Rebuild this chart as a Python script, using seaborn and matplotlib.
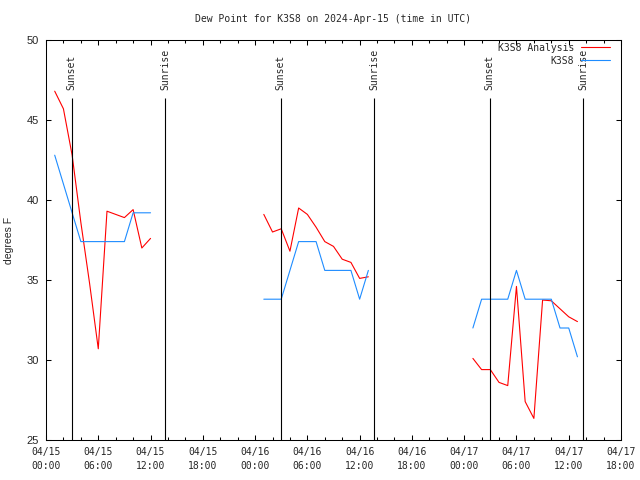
import numpy as np
import pandas as pd
import matplotlib
matplotlib.use("Agg")
import matplotlib.pyplot as plt
from matplotlib.lines import Line2D
import seaborn as sns

# heures depuis 2024-04-15 00:00 UTC, trois segments de données
hours_1 = list(range(1, 13))
hours_2 = list(range(25, 38))
hours_3 = list(range(49, 62))

analysis_1 = [46.8, 45.7, 42.8, 38.6, 34.8, 30.7, 39.3, 39.1, 38.9, 39.4, 37.0, 37.6]
analysis_2 = [39.1, 38.0, 38.2, 36.8, 39.5, 39.1, 38.3, 37.4, 37.1, 36.3, 36.1, 35.1, 35.2]
analysis_3 = [30.1, 29.4, 29.4, 28.6, 28.4, 34.6, 27.4, 26.35, 33.75, 33.7, 33.2, 32.7, 32.4]

obs_1 = [42.8, 41.0, 39.2, 37.4, 37.4, 37.4, 37.4, 37.4, 37.4, 39.2, 39.2, 39.2]
obs_2 = [33.8, 33.8, 33.8, 35.6, 37.4, 37.4, 37.4, 35.6, 35.6, 35.6, 35.6, 33.8, 35.6]
obs_3 = [32.0, 33.8, 33.8, 33.8, 33.8, 35.6, 33.8, 33.8, 33.8, 33.8, 32.0, 32.0, 30.2]

sunset_hours = [2.93, 26.93, 50.93]
sunrise_hours = [13.63, 37.63, 61.63]

x_ticks = list(range(0, 67, 6))
x_tick_labels = ["04/15\n00:00", "04/15\n06:00", "04/15\n12:00", "04/15\n18:00",
                 "04/16\n00:00", "04/16\n06:00", "04/16\n12:00", "04/16\n18:00",
                 "04/17\n00:00", "04/17\n06:00", "04/17\n12:00", "04/17\n18:00"]
y_ticks = [25, 30, 35, 40, 45, 50]

series_names = ["K3S8 Analysis", "K3S8"]
cores = {"K3S8 Analysis": "#ff0000", "K3S8": "#1e8cff"}

# monta a tabela longa (série + segmento)
linhas = []
for nome, segs in [("K3S8 Analysis", [analysis_1, analysis_2, analysis_3]),
                   ("K3S8", [obs_1, obs_2, obs_3])]:
    for i, (hrs, vals) in enumerate(zip([hours_1, hours_2, hours_3], segs)):
        for h, v in zip(hrs, vals):
            linhas.append({"serie": nome, "segmento": i, "hora": h, "dewpt": v})
df = pd.DataFrame(linhas)

sns.set_style("ticks")
mono = "DejaVu Sans Mono"

fig = plt.figure(figsize=(6.4, 4.8), dpi=100)
ax = fig.add_axes([46 / 640, 40 / 480, 575 / 640, 400 / 480])

sns.lineplot(data=df, x="hora", y="dewpt", hue="serie", units="segmento",
             estimator=None, palette=cores, hue_order=series_names,
             linewidth=0.8, legend=False, ax=ax)

# linhas de nascer/pôr do sol
ax.vlines(sunset_hours + sunrise_hours, 25, 46.4, color="black", linewidth=0.8)
for h in sunset_hours:
    ax.text(h, 46.9, "Sunset", rotation=90, ha="center", va="bottom",
            family=mono, fontsize=7)
for h in sunrise_hours:
    ax.text(h + 0.05, 46.9, "Sunrise", rotation=90, ha="center", va="bottom",
            family=mono, fontsize=7)

ax.set_xlim(0, 66)
ax.set_ylim(25, 50)
ax.set_xticks(x_ticks)
ax.set_xticklabels(x_tick_labels, family=mono, fontsize=7, linespacing=1.45)
ax.set_xticks(np.arange(0, 67, 2), minor=True)
ax.set_yticks(y_ticks)
ax.set_yticklabels([str(v) for v in y_ticks], family="Liberation Sans", fontsize=8)
ax.tick_params(which="both", direction="in", top=True, right=True, width=0.75,
               color="black", pad=5)
ax.tick_params(which="major", length=3.8)
ax.tick_params(which="minor", length=2.2)
for s in ax.spines.values():
    s.set_color("black")
    s.set_linewidth(0.75)

ax.set_xlabel("")
ax.set_ylabel("degrees F", family="Liberation Sans", fontsize=7.5, labelpad=9)
ax.set_title("Dew Point for K3S8 on 2024-Apr-15 (time in UTC)", family=mono,
             fontsize=7, pad=13)

handles = [Line2D([], [], color=cores[n], linewidth=0.8) for n in series_names]
ax.legend(handles, series_names, loc="upper right", bbox_to_anchor=(0.981, 0.993),
          frameon=False, markerfirst=False, borderpad=0, borderaxespad=0,
          handlelength=3.0, handletextpad=0.7, labelspacing=0.3,
          prop={"family": mono, "size": 7})

fig.savefig("out.png", dpi=100)
